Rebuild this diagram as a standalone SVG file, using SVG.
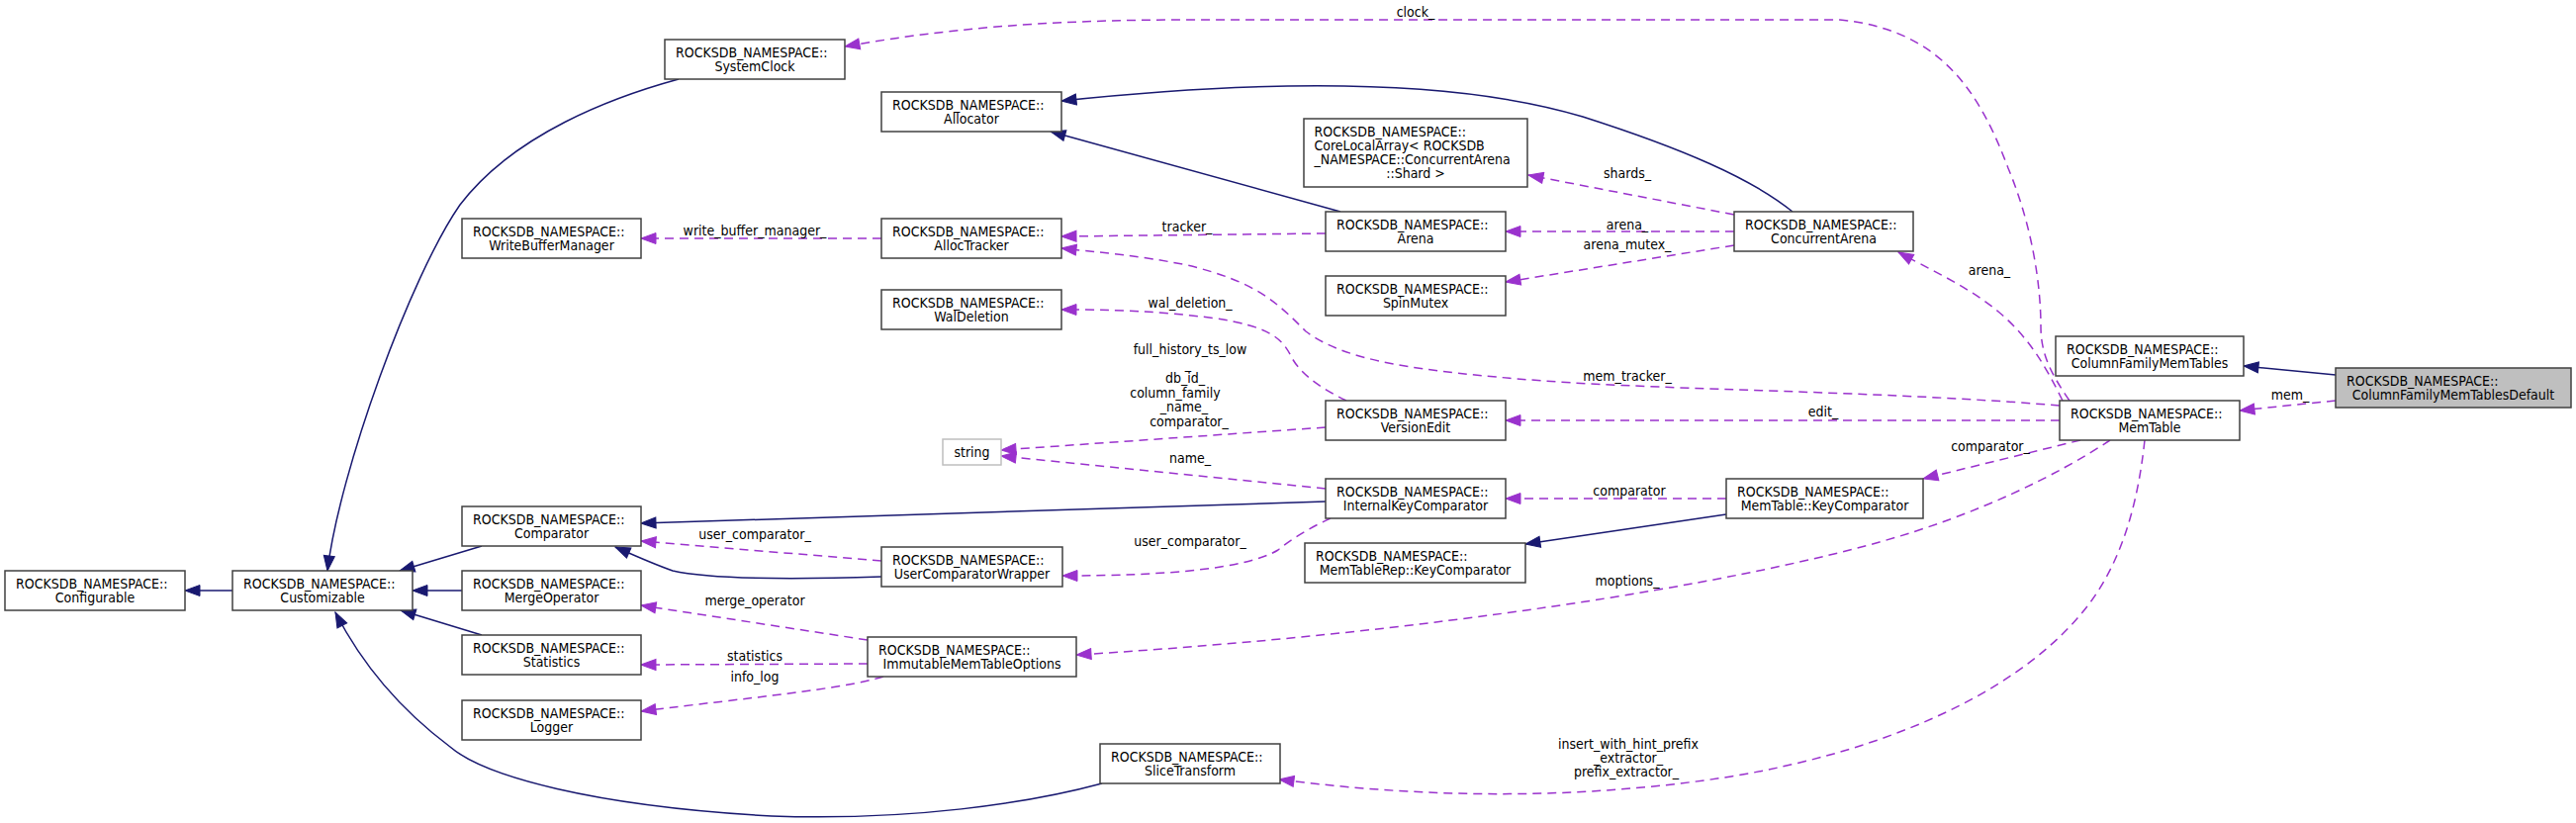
<svg xmlns="http://www.w3.org/2000/svg" width="2604" height="832" viewBox="0 0 2604 832">
<style>
text{font-family:"DejaVu Sans Condensed","DejaVu Sans","Liberation Sans",sans-serif;font-stretch:condensed;font-size:14px;fill:#000}
.n rect{fill:#fff;stroke:#404040;stroke-width:1.5}
.n rect.hl{fill:#bfbfbf}
.n rect.ext{stroke:#bfbfbf}
.c{text-anchor:middle}
.inh{fill:none;stroke:#191970;stroke-width:1.5;marker-end:url(#an)}
.use{fill:none;stroke:#9a32cd;stroke-width:1.5;stroke-dasharray:9,6;marker-end:url(#ap)}
.lbl{text-anchor:middle}
</style>
<defs>
<marker id="an" markerUnits="userSpaceOnUse" markerWidth="17" markerHeight="13" viewBox="0 0 17 13" refX="16" refY="6.5" orient="auto"><path d="M1,1 L16,6.5 L1,12 z" fill="#191970" stroke="#191970" stroke-width="1"/></marker>
<marker id="ap" markerUnits="userSpaceOnUse" markerWidth="17" markerHeight="13" viewBox="0 0 17 13" refX="16" refY="6.5" orient="auto"><path d="M1,1 L16,6.5 L1,12 z" fill="#9a32cd" stroke="#9a32cd" stroke-width="1"/></marker>
</defs>
<rect x="0" y="0" width="2604" height="832" fill="#fff"/>

<g id="connectors">
<!-- inheritance -->
<path class="inh" d="M235,597 L187,597"/>
<path class="inh" d="M686,80 C620,98 520,135 465,207 C415,279 343,477 331,577"/>
<path class="inh" d="M487,552 L404,577"/>
<path class="inh" d="M467,597 L417,597"/>
<path class="inh" d="M487,642 L405,617"/>
<path class="inh" d="M1114,792 C1040,812 920,830 780,825 C600,815 490,785 455,755 C395,710 360,660 339,619"/>
<path class="inh" d="M1340,507 L648,529"/>
<path class="inh" d="M891,583 C800,586 720,586 680,577 C660,570 640,561 622,553"/>
<path class="inh" d="M1355,214 L1062,133"/>
<path class="inh" d="M1812,214 C1770,180 1700,150 1600,118 C1480,82 1300,78 1073,102"/>
<path class="inh" d="M1745,520 L1542,550"/>
<path class="inh" d="M2361,379 L2268,370"/>
<!-- usage -->
<path class="use" d="M877,647 L648,612"/>
<path class="use" d="M877,671 L648,672"/>
<path class="use" d="M893,684 C850,697 760,705 648,719"/>
<path class="use" d="M891,241 L648,241"/>
<path class="use" d="M1340,236 L1073,239"/>
<path class="use" d="M2082,410 C1900,395 1700,395 1560,385 C1430,375 1360,365 1320,335 C1290,305 1270,285 1200,268 C1150,258 1110,255 1073,251"/>
<path class="use" d="M1361,405 C1340,395 1315,380 1305,360 C1295,340 1280,330 1230,322 C1170,314 1120,313 1073,313"/>
<path class="use" d="M1753,217 L1545,177"/>
<path class="use" d="M1753,234 L1522,234"/>
<path class="use" d="M1753,248 L1522,285"/>
<path class="use" d="M2085,405 C2068,370 2050,340 2020,315 C1990,290 1950,272 1919,255"/>
<path class="use" d="M2092,405 C2075,380 2063,360 2063,330 C2063,290 2055,230 2030,170 C2000,90 1960,30 1860,20 L1200,20 C1050,20 950,30 854,47"/>
<path class="use" d="M1340,432 L1012,455"/>
<path class="use" d="M1340,494 L1012,461"/>
<path class="use" d="M1345,524 C1325,533 1305,545 1292,556 C1260,575 1180,582 1074,582"/>
<path class="use" d="M1745,504 L1522,504"/>
<path class="use" d="M2103,445 L1944,484"/>
<path class="use" d="M2133,445 C2080,480 2000,520 1900,548 C1750,590 1450,640 1088,662"/>
<path class="use" d="M2168,445 C2160,520 2140,580 2100,625 C2030,705 1900,760 1750,785 C1600,808 1450,808 1293,788"/>
<path class="use" d="M2082,425 L1522,425"/>
<path class="use" d="M2361,405 L2264,415"/>
<path class="use" d="M891,567 L648,547"/>
<!-- labels -->
<text class="lbl" x="1431" y="17">clock_</text>
<text class="lbl" x="763" y="238">write_buffer_manager_</text>
<text class="lbl" x="1200" y="234">tracker_</text>
<text class="lbl" x="1645" y="180">shards_</text>
<text class="lbl" x="1645" y="232">arena_</text>
<text class="lbl" x="1645" y="252">arena_mutex_</text>
<text class="lbl" x="1203" y="311">wal_deletion_</text>
<text class="lbl" x="1645" y="385">mem_tracker_</text>
<text class="lbl" x="2011" y="278">arena_</text>
<text class="lbl" x="1843" y="421">edit_</text>
<text class="lbl" x="2315" y="404">mem_</text>
<text class="lbl" x="2012" y="456">comparator_</text>
<text class="lbl" x="1647" y="501">comparator</text>
<text class="lbl" x="1203" y="468">name_</text>
<text class="lbl" x="1203" y="552">user_comparator_</text>
<text class="lbl" x="763" y="545">user_comparator_</text>
<text class="lbl" x="763" y="612">merge_operator</text>
<text class="lbl" x="763" y="668">statistics</text>
<text class="lbl" x="763" y="689">info_log</text>
<text class="lbl" x="1645" y="592">moptions_</text>
<text class="lbl" x="1203" y="358">full_history_ts_low</text>
<text class="lbl" x="1201" y="373">_</text>
<text class="lbl" x="1198" y="387">db_id_</text>
<text class="lbl" x="1188" y="402">column_family</text>
<text class="lbl" x="1197" y="416">_name_</text>
<text class="lbl" x="1202" y="431">comparator_</text>
<text class="lbl" x="1646" y="757">insert_with_hint_prefix</text>
<text class="lbl" x="1646" y="771">_extractor_</text>
<text class="lbl" x="1644" y="785">prefix_extractor_</text>
</g>

<g id="Configurable" class="n"><rect x="5" y="577" width="182" height="40"/><text x="16" y="594.5">ROCKSDB_NAMESPACE::</text><text class="c" x="96" y="608.5">Configurable</text></g>
<g id="Customizable" class="n"><rect x="235" y="577" width="182" height="40"/><text x="246" y="594.5">ROCKSDB_NAMESPACE::</text><text class="c" x="326" y="608.5">Customizable</text></g>
<g id="SystemClock" class="n"><rect x="672" y="40" width="182" height="40"/><text x="683" y="57.5">ROCKSDB_NAMESPACE::</text><text class="c" x="763" y="71.5">SystemClock</text></g>
<g id="WriteBufferManager" class="n"><rect x="467" y="221" width="181" height="40"/><text x="478" y="238.5">ROCKSDB_NAMESPACE::</text><text class="c" x="557.5" y="252.5">WriteBufferManager</text></g>
<g id="Comparator" class="n"><rect x="467" y="512" width="181" height="40"/><text x="478" y="529.5">ROCKSDB_NAMESPACE::</text><text class="c" x="557.5" y="543.5">Comparator</text></g>
<g id="MergeOperator" class="n"><rect x="467" y="577" width="181" height="40"/><text x="478" y="594.5">ROCKSDB_NAMESPACE::</text><text class="c" x="557.5" y="608.5">MergeOperator</text></g>
<g id="Statistics" class="n"><rect x="467" y="642" width="181" height="40"/><text x="478" y="659.5">ROCKSDB_NAMESPACE::</text><text class="c" x="557.5" y="673.5">Statistics</text></g>
<g id="Logger" class="n"><rect x="467" y="708" width="181" height="40"/><text x="478" y="725.5">ROCKSDB_NAMESPACE::</text><text class="c" x="557.5" y="739.5">Logger</text></g>
<g id="Allocator" class="n"><rect x="891" y="93" width="182" height="40"/><text x="902" y="110.5">ROCKSDB_NAMESPACE::</text><text class="c" x="982" y="124.5">Allocator</text></g>
<g id="AllocTracker" class="n"><rect x="891" y="221" width="182" height="40"/><text x="902" y="238.5">ROCKSDB_NAMESPACE::</text><text class="c" x="982" y="252.5">AllocTracker</text></g>
<g id="WalDeletion" class="n"><rect x="891" y="293" width="182" height="40"/><text x="902" y="310.5">ROCKSDB_NAMESPACE::</text><text class="c" x="982" y="324.5">WalDeletion</text></g>
<g id="string" class="n"><rect class="ext" x="953" y="444" width="59" height="26"/><text class="c" x="982.5" y="462">string</text></g>
<g id="UserComparatorWrapper" class="n"><rect x="891" y="553" width="183" height="40"/><text x="902" y="570.5">ROCKSDB_NAMESPACE::</text><text class="c" x="982.5" y="584.5">UserComparatorWrapper</text></g>
<g id="ImmutableMemTableOptions" class="n"><rect x="877" y="644" width="211" height="40"/><text x="888" y="661.5">ROCKSDB_NAMESPACE::</text><text class="c" x="982.5" y="675.5">ImmutableMemTableOptions</text></g>
<g id="SliceTransform" class="n"><rect x="1112" y="752" width="182" height="40"/><text x="1123" y="769.5">ROCKSDB_NAMESPACE::</text><text class="c" x="1203" y="783.5">SliceTransform</text></g>
<g id="CoreLocalArray" class="n"><rect x="1318" y="120" width="226" height="69"/><text x="1328.5" y="137.5">ROCKSDB_NAMESPACE::</text><text x="1328.5" y="151.5">CoreLocalArray&lt; ROCKSDB</text><text x="1328.5" y="165.5">_NAMESPACE::ConcurrentArena</text><text class="c" x="1431" y="179.5">::Shard &gt;</text></g>
<g id="Arena" class="n"><rect x="1340" y="214" width="182" height="40"/><text x="1351" y="231.5">ROCKSDB_NAMESPACE::</text><text class="c" x="1431" y="245.5">Arena</text></g>
<g id="SpinMutex" class="n"><rect x="1340" y="279" width="182" height="40"/><text x="1351" y="296.5">ROCKSDB_NAMESPACE::</text><text class="c" x="1431" y="310.5">SpinMutex</text></g>
<g id="VersionEdit" class="n"><rect x="1340" y="405" width="182" height="40"/><text x="1351" y="422.5">ROCKSDB_NAMESPACE::</text><text class="c" x="1431" y="436.5">VersionEdit</text></g>
<g id="InternalKeyComparator" class="n"><rect x="1340" y="484" width="182" height="40"/><text x="1351" y="501.5">ROCKSDB_NAMESPACE::</text><text class="c" x="1431" y="515.5">InternalKeyComparator</text></g>
<g id="MemTableRepKeyComparator" class="n"><rect x="1319" y="549" width="223" height="40"/><text x="1330" y="566.5">ROCKSDB_NAMESPACE::</text><text class="c" x="1430.5" y="580.5">MemTableRep::KeyComparator</text></g>
<g id="ConcurrentArena" class="n"><rect x="1753" y="214" width="181" height="40"/><text x="1764" y="231.5">ROCKSDB_NAMESPACE::</text><text class="c" x="1843.5" y="245.5">ConcurrentArena</text></g>
<g id="MemTableKeyComparator" class="n"><rect x="1745" y="484" width="199" height="40"/><text x="1756" y="501.5">ROCKSDB_NAMESPACE::</text><text class="c" x="1844.5" y="515.5">MemTable::KeyComparator</text></g>
<g id="ColumnFamilyMemTables" class="n"><rect x="2078" y="340" width="190" height="40"/><text x="2089" y="357.5">ROCKSDB_NAMESPACE::</text><text class="c" x="2173" y="371.5">ColumnFamilyMemTables</text></g>
<g id="MemTable" class="n"><rect x="2082" y="405" width="182" height="40"/><text x="2093" y="422.5">ROCKSDB_NAMESPACE::</text><text class="c" x="2173" y="436.5">MemTable</text></g>
<g id="ColumnFamilyMemTablesDefault" class="n"><rect class="hl" x="2361" y="372" width="238" height="40"/><text x="2372" y="389.5">ROCKSDB_NAMESPACE::</text><text class="c" x="2480" y="403.5">ColumnFamilyMemTablesDefault</text></g>
</svg>
